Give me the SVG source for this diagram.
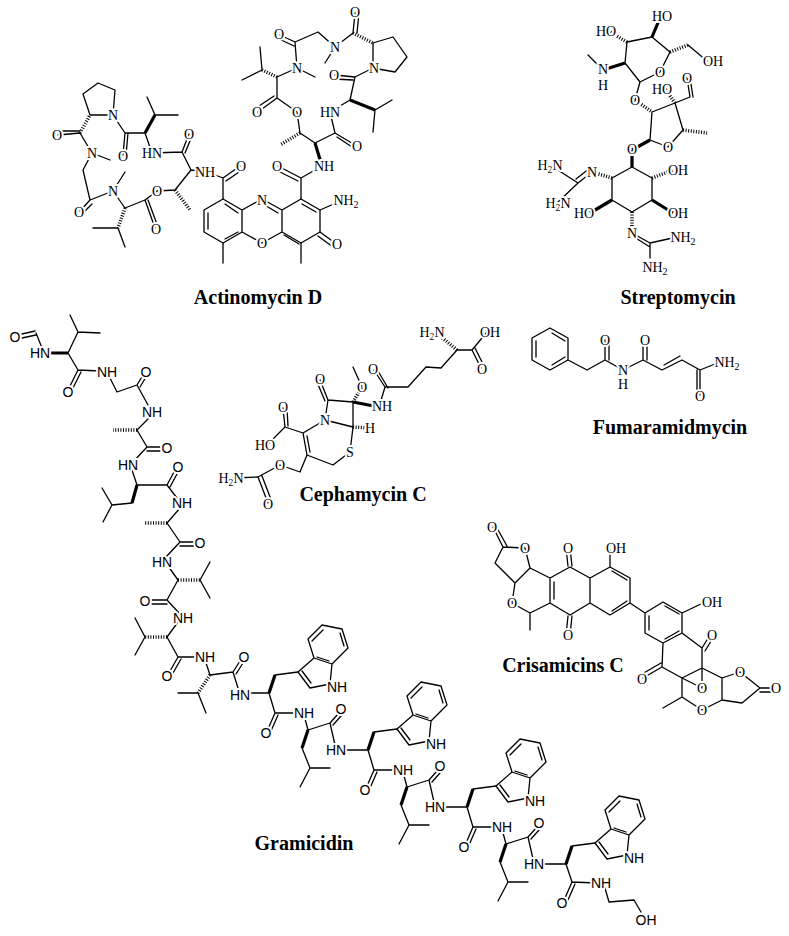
<svg xmlns="http://www.w3.org/2000/svg" xmlns:xlink="http://www.w3.org/1999/xlink" width="789" height="936" viewBox="0 0 789 936">
<style>
.b{fill:none;stroke:#000;stroke-width:1.3;stroke-linecap:round;stroke-linejoin:round}
.w{fill:none;stroke:#000;stroke-width:3.2;stroke-linecap:butt}
.h{fill:none;stroke:#000;stroke-width:3.5;stroke-dasharray:1 1.6}
text{paint-order:stroke;stroke:#fff;stroke-width:4px;stroke-linejoin:round;fill:#000;text-anchor:middle;dominant-baseline:central}
.a{font-family:"Liberation Serif",serif;font-size:14px}
.s{font-family:"Liberation Sans",sans-serif;font-size:14px}
.t{font-family:"Liberation Serif",serif;font-size:20px;font-weight:bold;stroke:none}
</style>
<defs>
<g id="indole">
<path class="b" d="M0,0L12,16L32,12L34,-8L16,-14L0,0M16,-14L10,-33L24,-47L44,-43L50,-24L34,-8M4,-1L13,11M14,-31L25,-42M42,-39L46,-26M31,-11L19,-15"/>
<text class="s" x="39" y="15">NH</text>
</g>
<g id="trp">
<path class="w" d="M0,0L6,-18"/>
<path class="b" d="M6,-18L29,-21"/>
<use xlink:href="#indole" x="29" y="-21"/>
</g>
<g id="unit">
<use xlink:href="#trp"/>
<path class="b" d="M0,0L6,20L30,20M6,20L-1,36M9,22L2,38M35,22L39,37M33,55L41,75L31,94M41,75L61,75M39,37L61,30L69,21M64,32L72,23M61,30L66,52M72,57L99,57"/>
<path class="w" d="M39,37L33,55"/>
<text class="s" x="-3" y="40">O</text>
<text class="s" x="35" y="20">NH</text>
<text class="s" x="72" y="16">O</text>
<text class="s" x="67" y="57">HN</text>
</g>
</defs>

<g id="actinomycin">
<path class="b" d="M223,199L242,210L242,232L223,243L204,232L204,210Z M242,210L262,199L282,210L282,232L262,243L242,232 M282,210L301,199L320,210L320,232L301,243L282,232 M208,213L208,229 M225,239L238,232 M238,213L225,204 M263,204L278,213 M302,204L316,212 M284,235L299,244"/>
<path class="b" d="M223,199L223,178L240,166M226,181L242,170M223,178L207,172M301,199L301,178L278,166M298,181L276,170M301,178L322,166M223,243L223,263M301,243L301,263M320,210L343,200M320,232L335,243M318,236L333,247"/>
<path class="b" d="M207,172L191,170L182,152L189,134M185,153L192,136M182,152L152,153M191,170L175,190L157,191L145,200L155,228M148,200L158,227M145,200L125,208L113,191L125,172M93,228L118,228L125,247M113,191L90,200L80,211M92,204L82,214M90,200L83,170L92,153L110,160M92,153L80,133L58,135M80,131L60,131M90,115L83,94L98,83L115,90L113,115L90,115M113,115L125,133L123,155M128,133L126,155M125,133L145,133L152,153M155,115L147,97M155,115L178,115"/>
<path class="h" d="M175,190L190,210M125,208L118,228M80,133L90,115"/>
<path class="w" d="M145,133L155,115"/>
<path class="b" d="M315,143L335,133L355,145M337,137L355,149M335,133L330,112L350,100M375,110L392,100M375,110L373,132M350,100L355,77L335,75M353,80L334,79M355,77L373,68M373,68L373,43L393,37L407,57L395,72L373,68M353,33L355,13M357,33L359,13M353,33L335,47L325,63M335,47L318,32L295,42L280,35M294,46L279,39M295,42L297,68L315,77M297,68L277,77M262,70L260,47M262,70L242,80M277,77L277,98L258,112M274,96L256,108M277,98L297,112L300,133L315,143"/>
<path class="h" d="M353,33L373,43M277,77L262,70M300,133L280,145"/>
<path class="w" d="M322,166L315,143M350,100L375,110"/>
<text class="a" x="262" y="200">N</text>
<text class="a" x="262" y="243">O</text>
<text class="a" x="346" y="200">NH<tspan font-size="10" dy="4">2</tspan></text>
<text class="a" x="337" y="244">O</text>
<text class="a" x="205" y="172">NH</text>
<text class="a" x="241" y="166">O</text>
<text class="a" x="277" y="166">O</text>
<text class="a" x="324" y="166">NH</text>
<text class="a" x="189" y="134">O</text>
<text class="a" x="152" y="153">HN</text>
<text class="a" x="157" y="191">O</text>
<text class="a" x="156" y="229">O</text>
<text class="a" x="113" y="191">N</text>
<text class="a" x="79" y="212">O</text>
<text class="a" x="92" y="153">N</text>
<text class="a" x="57" y="135">O</text>
<text class="a" x="113" y="115">N</text>
<text class="a" x="123" y="156">O</text>
<text class="a" x="330" y="112">HN</text>
<text class="a" x="357" y="146">O</text>
<text class="a" x="297" y="112">O</text>
<text class="a" x="257" y="112">O</text>
<text class="a" x="297" y="68">N</text>
<text class="a" x="279" y="34">O</text>
<text class="a" x="335" y="47">N</text>
<text class="a" x="355" y="12">O</text>
<text class="a" x="334" y="75">O</text>
<text class="a" x="374" y="68">N</text>
<text class="t" x="258" y="297">Actinomycin D</text>
</g>

<g id="streptomycin">
<path class="b" d="M625,63L627,42L652,37L670,52L660,72L640,82L625,63M688,45L707,61M603,70L588,55M640,82L635,100M652,112L675,103L683,130L668,147L650,140L652,112M675,103L690,97L687,78M693,97L690,78M632,167L652,178L652,200L632,212L612,200L612,178L632,167M592,172L578,183L550,165M590,168L576,179M578,183L558,202M632,233L650,243L677,237M634,237L650,247M650,243L650,258"/>
<path class="h" d="M627,42L608,31M670,52L688,45M635,100L652,112M675,103L665,89M683,130L707,133M612,178L592,172M652,178L673,170M632,212L632,233"/>
<path class="w" d="M652,37L660,18M625,63L603,70M650,140L632,150M632,150L632,167M652,200L673,213M612,200L590,213"/>
<text class="a" x="606" y="31">HO</text>
<text class="a" x="662" y="16">HO</text>
<text class="a" x="713" y="61">OH</text>
<text class="a" x="603" y="69">N</text>
<text class="a" x="603" y="85">H</text>
<text class="a" x="660" y="72">O</text>
<text class="a" x="635" y="100">O</text>
<text class="a" x="662" y="89">HO</text>
<text class="a" x="687" y="78">O</text>
<text class="a" x="668" y="147">O</text>
<text class="a" x="632" y="149">O</text>
<text class="a" x="592" y="172">N</text>
<text class="a" x="550" y="165">H<tspan font-size="10" dy="4">2</tspan><tspan dy="-4">N</tspan></text>
<text class="a" x="558" y="203">H<tspan font-size="10" dy="4">2</tspan><tspan dy="-4">N</tspan></text>
<text class="a" x="678" y="170">OH</text>
<text class="a" x="678" y="213">OH</text>
<text class="a" x="584" y="213">HO</text>
<text class="a" x="632" y="233">N</text>
<text class="a" x="683" y="237">NH<tspan font-size="10" dy="4">2</tspan></text>
<text class="a" x="655" y="267">NH<tspan font-size="10" dy="4">2</tspan></text>
<text class="t" x="678" y="297">Streptomycin</text>
</g>

<g id="fumaramidmycin">
<path class="b" d="M550,328L568,338L568,360L550,370L532,360L532,338Z M536,341L536,357 M552,365L565,357 M565,341L552,333 M568,360L587,370L605,360L605,340M609,360L609,340M605,360L623,370L643,360L643,340M647,360L647,340M643,360L662,370L682,360L700,370L700,395M697,370L697,395M664,365L680,356M700,370L720,362"/>
<text class="a" x="605" y="340">O</text>
<text class="a" x="623" y="370">N</text>
<text class="a" x="623" y="384">H</text>
<text class="a" x="645" y="340">O</text>
<text class="a" x="700" y="396">O</text>
<text class="a" x="727" y="362">NH<tspan font-size="10" dy="4">2</tspan></text>
<text class="t" x="670" y="427">Fumaramidmycin</text>
</g>

<g id="cephamycin">
<path class="b" d="M325,420L328,400L353,402L353,427L325,420M328,400L320,380M325,401L317,382M362,387L353,367M353,427L350,452L333,465L307,455L303,433L325,420M307,436L310,452M303,433L285,427L283,408M288,426L287,408M285,427L267,445M307,455L300,472L280,465L258,477L233,478M258,477L268,503M262,476L272,502M379,407L385,387L374,370M388,388L378,371M385,387L408,387L426,367L441,368L457,350L472,350L487,332M472,350L481,368M475,348L484,366"/>
<path class="h" d="M353,402L362,387M353,427L367,428M457,350L440,336"/>
<path class="w" d="M353,402L379,407"/>
<text class="a" x="325" y="420">N</text>
<text class="a" x="320" y="379">O</text>
<text class="a" x="362" y="387">O</text>
<text class="a" x="382" y="406">NH</text>
<text class="a" x="370" y="428">H</text>
<text class="a" x="350" y="452">S</text>
<text class="a" x="283" y="407">O</text>
<text class="a" x="265" y="445">HO</text>
<text class="a" x="280" y="465">O</text>
<text class="a" x="268" y="504">O</text>
<text class="a" x="231" y="478">H<tspan font-size="10" dy="4">2</tspan><tspan dy="-4">N</tspan></text>
<text class="a" x="373" y="369">O</text>
<text class="a" x="432" y="332">H<tspan font-size="10" dy="4">2</tspan><tspan dy="-4">N</tspan></text>
<text class="a" x="490" y="332">OH</text>
<text class="a" x="482" y="369">O</text>
<text class="t" x="363" y="494">Cephamycin C</text>
</g>

<g id="crisamicin">
<path class="b" d="M503,547L525,548L530,568L515,583L495,563L503,547L493,527M507,546L497,528 M530,568L550,578L550,603L530,613L512,603L515,583M530,613L530,630M554,582L554,599 M550,578L570,567L590,578L590,603L570,615L550,603M568,566L566,548M572,566L570,548M568,616L566,635M572,616L570,635 M590,578L610,567L630,578L630,603L610,615L590,603M610,567L610,550M612,571L627,580M612,611L627,601 M630,603L645,613L663,602L682,613L682,633L663,643L645,633L645,613M665,606L679,614M649,616L649,630M665,639L679,631M682,613L703,603 M682,633L702,648L702,668L682,678L662,667L663,643M702,648L710,635M705,651L713,638M662,667L643,678M661,663L642,674M682,678L702,688L702,668M702,668L722,678L740,672L760,688L742,703L722,700L722,678M760,688L773,688M760,692L773,692M682,678L682,697L663,708M682,697L702,710L722,700"/>
<text class="a" x="492" y="527">O</text>
<text class="a" x="525" y="548">O</text>
<text class="a" x="512" y="603">O</text>
<text class="a" x="568" y="548">O</text>
<text class="a" x="568" y="635">O</text>
<text class="a" x="616" y="548">OH</text>
<text class="a" x="712" y="602">OH</text>
<text class="a" x="712" y="635">O</text>
<text class="a" x="642" y="679">O</text>
<text class="a" x="702" y="688">O</text>
<text class="a" x="740" y="672">O</text>
<text class="a" x="776" y="688">O</text>
<text class="a" x="702" y="710">O</text>
<text class="t" x="563" y="665">Crisamicins C</text>
</g>

<g id="gramicidin">
<path class="b" d="M22,334L35,331M22,338L36,335M36,333L42,348M68,353L78,332L70,315M78,332L100,333M68,353L78,370L100,371M78,370L70,386M81,372L73,388M110,378L117,392L137,385L143,375M140,387L146,377M137,385L148,405M152,415L137,430M137,430L147,447L160,447M147,451L160,451M147,447L133,462M132,470L137,485L167,485L174,472M170,487L177,474M167,485L177,498M132,503L112,505L102,488M112,505L103,522M180,508L167,523L180,542L194,542M180,546L194,546M180,542L165,558M168,566L178,580L167,600L152,600M167,604L152,604M167,600L180,614M178,622L167,637L178,657L170,671M181,659L173,673M178,657L200,657M205,660L210,675L233,672L240,661M236,674L243,663M233,672L238,688M198,693L178,693M198,693L206,713M250,693L269,693M200,580L210,562M200,580L210,598M145,637L135,618M145,637L135,655"/>
<path class="w" d="M50,353L68,353M137,485L132,503"/>
<path class="h" d="M137,430L113,430M167,523L145,523M178,580L200,580M167,637L145,637M210,675L198,693"/>
<text class="s" x="15" y="337">O</text>
<text class="s" x="40" y="353">HN</text>
<text class="s" x="68" y="392">O</text>
<text class="s" x="107" y="372">NH</text>
<text class="s" x="146" y="372">O</text>
<text class="s" x="152" y="412">NH</text>
<text class="s" x="167" y="448">O</text>
<text class="s" x="128" y="465">HN</text>
<text class="s" x="178" y="467">O</text>
<text class="s" x="182" y="503">NH</text>
<text class="s" x="200" y="543">O</text>
<text class="s" x="162" y="562">HN</text>
<text class="s" x="145" y="601">O</text>
<text class="s" x="183" y="618">NH</text>
<text class="s" x="167" y="676">O</text>
<text class="s" x="205" y="657">NH</text>
<text class="s" x="244" y="657">O</text>
<text class="s" x="240" y="695">HN</text>
<use xlink:href="#unit" x="269" y="693"/>
<use xlink:href="#unit" x="368" y="750"/>
<use xlink:href="#unit" x="467" y="807"/>
<use xlink:href="#trp" x="566" y="864"/>
<path class="b" d="M566,864L572,882L596,883M572,882L565,898M575,884L568,900M605,888L609,902L634,900L641,912"/>
<text class="s" x="562" y="903">O</text>
<text class="s" x="601" y="883">NH</text>
<text class="s" x="646" y="920">OH</text>
<text class="t" x="304" y="843">Gramicidin</text>
</g>
</svg>
